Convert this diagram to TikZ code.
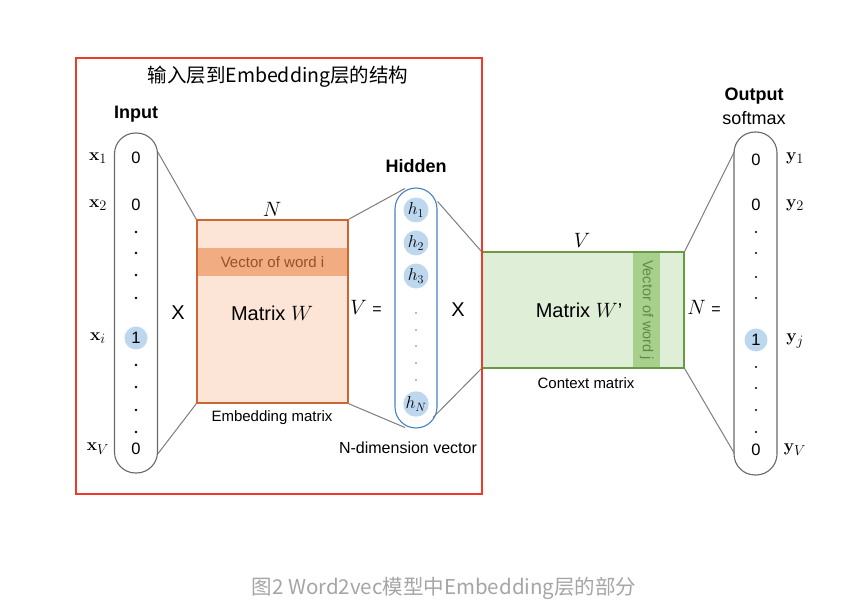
\documentclass[tikz,border=0pt]{standalone}
\usepackage[no-math]{fontspec}
\setmainfont{Liberation Sans}
\newfontfamily\cjk{Noto Sans CJK SC}
\usetikzlibrary{calc}
\definecolor{pillgray}{RGB}{105,105,105}
\definecolor{linkgray}{RGB}{125,125,125}
\definecolor{hotblue}{RGB}{189,215,238}
\definecolor{hidblue}{RGB}{68,130,200}
\definecolor{wfill}{RGB}{252,228,214}
\definecolor{wband}{RGB}{242,172,130}
\definecolor{wedge}{RGB}{204,102,51}
\definecolor{wtext}{RGB}{150,82,35}
\definecolor{cfill}{RGB}{223,238,214}
\definecolor{cband}{RGB}{168,208,141}
\definecolor{cedge}{RGB}{106,153,70}
\definecolor{ctext}{RGB}{98,138,70}
\definecolor{frame}{RGB}{240,58,40}
\definecolor{capgray}{RGB}{165,165,165}
\tikzset{
  pill/.style={draw=pillgray,line width=1.1pt,rounded corners=21pt,minimum width=43pt,inner sep=0pt},
  hpill/.style={pill,draw=hidblue,minimum width=42pt},
  val/.style={font=\fontsize{16.5}{19}\selectfont,inner sep=0pt},
  one/.style={circle,fill=hotblue,minimum size=23pt},
  hc/.style={circle,fill=hotblue,minimum size=25pt,inner sep=0pt,font=\fontsize{18}{21}\selectfont},
  mlab/.style={font=\fontsize{19}{22}\selectfont,inner sep=0pt},
  dlab/.style={font=\fontsize{20}{23}\selectfont,inner sep=0pt},
  bold/.style={font=\fontsize{18}{21}\selectfont\bfseries,inner sep=0pt},
  reg/.style={font=\fontsize{18}{21}\selectfont,inner sep=0pt},
  big/.style={font=\fontsize{20}{24}\selectfont,inner sep=0pt},
  small/.style={font=\fontsize{15}{18}\selectfont,inner sep=0pt},
  matw/.style={draw=wedge,fill=wfill,line width=1.5pt,inner sep=0pt},
  matc/.style={draw=cedge,fill=cfill,line width=1.5pt,inner sep=0pt},
  bandw/.style={fill=wband,text=wtext,inner sep=0pt,font=\fontsize{15}{18}\selectfont},
  bandc/.style={fill=cband,text=ctext,inner sep=0pt,font=\fontsize{14.5}{17}\selectfont},
  link/.style={draw=linkgray,line width=1pt},
  framebox/.style={draw=frame,line width=1.6pt,inner sep=0pt},
}
\begin{document}
\begin{tikzpicture}[x=1pt,y=-1pt]
\useasboundingbox (0,0) rectangle (844,612);
\node[font=\fontsize{19.5}{23}\selectfont\cjk] (ttl) at (278,77) {输入层到Embedding层的结构};

% input one-hot vector
\node[pill,minimum height=340pt] (in) at (136,303) {};
\node[bold] (inlab) at (136,114) {Input};
\node[val] (x1) at (136,158) {0};
\node[val] (x2) at (136,205) {0};
\node[val,one] (xi) at (136,338) {1};
\node[val] (xv) at (136,449) {0};
\foreach \y in {232,253,275,298,365,387,410,432}
  \fill (136,\y) circle (1.3pt);
\node[mlab] (lx1) at (98,158) {$\mathbf{x}_1$};
\node[mlab] (lx2) at (98,205) {$\mathbf{x}_2$};
\node[mlab] (lxi) at (98,338) {$\mathbf{x}_i$};
\node[mlab] (lxv) at (98,449) {$\mathbf{x}_V$};
\node[big] (op1) at (178,313) {X};

% embedding matrix
\node[matw,minimum width=151pt,minimum height=183pt] (W) at (272.5,311.5) {};
\node[bandw,minimum width=149.5pt,minimum height=28pt] (Wi) at (272.5,262) {Vector of word i};
\node[big] (Wlab) at (272,313) {Matrix $W$};
\node[dlab] (WN) at (272,209) {$N$};
\node[small] (Wcap) at (272,418) {Embedding matrix};

% hidden layer
\node[hpill,minimum height=240pt] (hid) at (416,308) {};
\node[bold] (hidlab) at (416,166) {Hidden};
\node[hc] (h1) at (416,210) {$h_1$};
\node[hc] (h2) at (416,243) {$h_2$};
\node[hc] (h3) at (416,276) {$h_3$};
\node[hc] (hN) at (416,404) {$h_N$};
\foreach \y in {313,330,346,363,380}
  \fill[hidblue] (416,\y) circle (0.9pt);
\node[dlab] (hV) at (366,307) {$V$ {\fontsize{16}{19}\selectfont=}};
\node[small,font=\fontsize{16}{19}\selectfont] (hcap) at (408,448) {N-dimension vector};
\node[big] (op2) at (458,310) {X};

% context matrix
\node[matc,minimum width=202pt,minimum height=116pt] (C) at (583,310) {};
\node[bandc,rotate=-90,minimum width=114.5pt,minimum height=27pt] (Cj) at (646.5,310) {Vector of word j};
\node[big] (Clab) at (579,310) {Matrix $W$’};
\node[dlab] (CV) at (582,240) {$V$};
\node[small] (Ccap) at (586,383) {Context matrix};
\node[dlab] (oN) at (704,307) {$N$ {\fontsize{16}{19}\selectfont=}};

% output softmax vector
\node[pill,minimum height=343pt] (out) at (755.5,303.5) {};
\node[bold] (outlab) at (754,96) {Output};
\node[reg] (sm) at (754,118) {softmax};
\node[val] (y1) at (756,160) {0};
\node[val] (y2) at (756,205) {0};
\node[val,one] (yj) at (756,340) {1};
\node[val] (yv) at (756,450) {0};
\foreach \y in {232,253,277,298,367,388,410,432}
  \fill (756,\y) circle (1.1pt);
\node[mlab] (ly1) at (795,158) {$\mathbf{y}_1$};
\node[mlab] (ly2) at (795,205) {$\mathbf{y}_2$};
\node[mlab] (lyj) at (795,341) {$\mathbf{y}_j$};
\node[mlab] (lyv) at (795,450) {$\mathbf{y}_V$};

% connectors
\draw[link] ($(in.north east)+(0,20)$) -- (W.north west);
\draw[link] ($(in.south east)+(0,-20)$) -- (W.south west);
\draw[link] (W.north east) -- ($(hid.north)+(-11,1)$);
\draw[link] (W.south east) -- ($(hid.south)+(-11,-1)$);
\draw[link] ($(hid.north east)+(0,14)$) -- (C.north west);
\draw[link] ($(hid.south)+(17,-11)$) -- (C.south west);
\draw[link] (C.north east) -- ($(out.north west)+(1,20)$);
\draw[link] (C.south east) -- ($(out.south west)+(1,-22)$);

\node[framebox,minimum width=406pt,minimum height=436pt] (emb) at (279,276) {};
\node[text=capgray,font=\fontsize{20.5}{24}\selectfont\cjk] (cap) at (444,588) {图2 Word2vec模型中Embedding层的部分};
\end{tikzpicture}
\end{document}
